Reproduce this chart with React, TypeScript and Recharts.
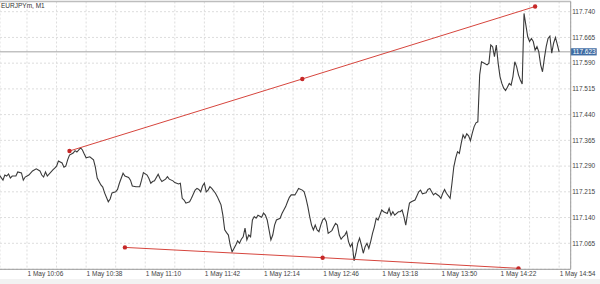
import React from "react";
import {
  ComposedChart,
  Line,
  XAxis,
  YAxis,
  CartesianGrid,
  ReferenceLine,
} from "recharts";

// EURJPYm M1 closes (1 May)
const barTimes = [
  "09:51", "09:53", "09:54", "09:55", "09:56", "09:57", "09:58", "10:00", "10:01", "10:03",
  "10:04", "10:05", "10:07", "10:09", "10:11", "10:13", "10:14", "10:15", "10:16", "10:17",
  "10:20", "10:21", "10:22", "10:23", "10:25", "10:26", "10:27", "10:28", "10:29", "10:31",
  "10:32", "10:33", "10:35", "10:36", "10:37", "10:38", "10:40", "10:42", "10:43", "10:44",
  "10:46", "10:47", "10:48", "10:50", "10:51", "10:52", "10:54", "10:55", "10:56", "10:58",
  "10:59", "11:01", "11:02", "11:03", "11:05", "11:07", "11:08", "11:09", "11:11", "11:12",
  "11:13", "11:14", "11:15", "11:17", "11:18", "11:19", "11:21", "11:22", "11:23", "11:25",
  "11:26", "11:28", "11:29", "11:30", "11:31", "11:32", "11:34", "11:35", "11:37", "11:38",
  "11:39", "11:40", "11:41", "11:42", "11:43", "11:44", "11:45", "11:46", "11:48", "11:49",
  "11:50", "11:51", "11:52", "11:53", "11:54", "11:55", "11:56", "11:57", "11:58", "11:59",
  "12:00", "12:01", "12:02", "12:03", "12:04", "12:05", "12:06", "12:07", "12:08", "12:09",
  "12:10", "12:11", "12:13", "12:14", "12:15", "12:16", "12:17", "12:18", "12:19", "12:20",
  "12:21", "12:23", "12:24", "12:26", "12:27", "12:28", "12:29", "12:31", "12:32", "12:33",
  "12:35", "12:36", "12:37", "12:38", "12:39", "12:40", "12:41", "12:42", "12:43", "12:44",
  "12:45", "12:46", "12:47", "12:48", "12:49", "12:51", "12:52", "12:53", "12:54", "12:55",
  "12:56", "12:57", "12:58", "12:59", "13:00", "13:01", "13:02", "13:03", "13:04", "13:05",
  "13:06", "13:07", "13:08", "13:09", "13:10", "13:11", "13:12", "13:13", "13:14", "13:15",
  "13:16", "13:17", "13:18", "13:19", "13:21", "13:22", "13:23", "13:24", "13:25", "13:27",
  "13:28", "13:29", "13:30", "13:31", "13:32", "13:33", "13:34", "13:36", "13:37", "13:38",
  "13:39", "13:40", "13:41", "13:42", "13:43", "13:44", "13:45", "13:46", "13:47", "13:49",
  "13:50", "13:51", "13:52", "13:53", "13:55", "13:56", "13:57", "13:58", "13:59", "14:00",
  "14:01", "14:02", "14:03", "14:04", "14:05", "14:06", "14:07", "14:08", "14:09", "14:10",
  "14:11", "14:12", "14:13", "14:15", "14:16", "14:17", "14:18", "14:19", "14:20", "14:21",
  "14:22", "14:23", "14:24", "14:25", "14:26", "14:27", "14:28", "14:29", "14:30", "14:31",
  "14:32", "14:33", "14:34", "14:35", "14:36", "14:37", "14:38", "14:39", "14:40", "14:41",
  "14:42", "14:43", "14:44", "14:45", "14:46", "14:47", "14:48", "14:49", "14:50", "14:51",
  "14:52", "14:53", "14:54",
];

const barCloses = [
  117.264, 117.249, 117.264, 117.261, 117.267, 117.255, 117.261, 117.261, 117.273, 117.27,
  117.249, 117.258, 117.264, 117.276, 117.282, 117.276, 117.264, 117.258, 117.273, 117.261,
  117.279, 117.284, 117.29, 117.305, 117.299, 117.287, 117.29, 117.308, 117.322, 117.328,
  117.335, 117.331, 117.343, 117.337, 117.325, 117.314, 117.317, 117.308, 117.287, 117.255,
  117.235, 117.229, 117.212, 117.186, 117.194, 117.212, 117.215, 117.222, 117.24, 117.269,
  117.261, 117.257, 117.249, 117.232, 117.23, 117.23, 117.249, 117.271, 117.264, 117.254,
  117.24, 117.245, 117.247, 117.266, 117.254, 117.245, 117.252, 117.259, 117.252, 117.247,
  117.242, 117.238, 117.24, 117.196, 117.191, 117.182, 117.186, 117.196, 117.22, 117.225,
  117.222, 117.215, 117.232, 117.24, 117.215, 117.22, 117.23, 117.225, 117.211, 117.201,
  117.189, 117.177, 117.147, 117.104, 117.096, 117.089, 117.06, 117.04, 117.05, 117.06,
  117.072, 117.065, 117.077, 117.084, 117.109, 117.075, 117.089, 117.084, 117.133, 117.143,
  117.138, 117.147, 117.141, 117.153, 117.147, 117.133, 117.104, 117.075, 117.089, 117.118,
  117.133, 117.138, 117.152, 117.172, 117.186, 117.199, 117.206, 117.206, 117.215, 117.225,
  117.22, 117.215, 117.196, 117.172, 117.143, 117.118, 117.104, 117.118, 117.104, 117.099,
  117.118, 117.133, 117.138, 117.128, 117.094, 117.102, 117.113, 117.123, 117.118, 117.089,
  117.077, 117.084, 117.089, 117.099, 117.07, 117.055, 117.065, 117.014, 117.036, 117.065,
  117.08, 117.06, 117.036, 117.055, 117.065, 117.05, 117.07, 117.094, 117.113, 117.138,
  117.133, 117.147, 117.162, 117.157, 117.152, 117.167, 117.147, 117.157, 117.147, 117.157,
  117.157, 117.162, 117.143, 117.118, 117.152, 117.182, 117.186, 117.191, 117.203, 117.215,
  117.22, 117.209, 117.211, 117.212, 117.222, 117.225, 117.215, 117.206, 117.211, 117.203,
  117.196, 117.211, 117.222, 117.211, 117.196, 117.24, 117.288, 117.313, 117.332, 117.327,
  117.356, 117.381, 117.371, 117.384, 117.378, 117.364, 117.386, 117.405, 117.416, 117.419,
  117.556, 117.594, 117.591, 117.585, 117.59, 117.643, 117.638, 117.609, 117.643, 117.59,
  117.551, 117.531, 117.517, 117.51, 117.52, 117.531, 117.526, 117.551, 117.594, 117.58,
  117.556, 117.541, 117.529, 117.735, 117.701, 117.667, 117.653, 117.662, 117.653, 117.628,
  117.638, 117.623, 117.585, 117.565, 117.604, 117.638, 117.662, 117.669, 117.619, 117.648,
  117.665, 117.645, 117.623,
];

// trend lines drawn on the chart (anchor, middle handle, anchor)
const upperTrendTimes = ["10:29", "12:35", "14:41"];
const upperTrendPrices = [117.334, 117.544, 117.755];
const lowerTrendTimes = ["10:59", "12:46", "14:32"];
const lowerTrendPrices = [117.053, 117.023, 116.992];

const priceTicks = [
  117.065, 117.14, 117.215, 117.29, 117.365, 117.44, 117.515, 117.59, 117.665, 117.74,
];
// grid every 16 min, labels on every other one
const gridTimes = [
  "10:06", "10:22", "10:38", "10:54", "11:10", "11:26", "11:42", "11:58", "12:14", "12:30",
  "12:46", "13:02", "13:18", "13:34", "13:50", "14:06", "14:22", "14:38", "14:54",
];
const labelTimes = [
  "10:06", "10:38", "11:10", "11:42", "12:14", "12:46", "13:18", "13:50", "14:22", "14:54",
];

const symbolTitle = "EURJPYm, M1";
const dayLabel = "1 May";
const currentPrice = 117.623;

const FONT = "'Liberation Sans', Arial, Helvetica, sans-serif";
const TREND = "#d6453d";

const toMin = (s: string) => {
  const [h, m] = s.split(":").map(Number);
  return h * 60 + m;
};
const fmtMin = (t: number) => {
  const h = Math.floor(t / 60);
  const m = Math.round(t - h * 60);
  return `${String(h).padStart(2, "0")}:${String(m).padStart(2, "0")}`;
};

const n = Math.min(barTimes.length, barCloses.length);
const bars = barTimes.slice(0, n).map((s, i) => ({ t: toMin(s), price: barCloses[i] }));
const upperTrend = upperTrendTimes.map((s, i) => ({ t: toMin(s), price: upperTrendPrices[i] }));
const lowerTrend = lowerTrendTimes.map((s, i) => ({ t: toMin(s), price: lowerTrendPrices[i] }));
const gridTicks = gridTimes.map(toMin);
const labelSet = new Set(labelTimes.map(toMin));

const X_DOMAIN = [591.39, 900.26];
const Y_DOMAIN = [116.9892, 117.7697];

function TimeTick(props: any) {
  const { x, y, payload } = props;
  if (!labelSet.has(payload.value)) return <g />;
  return (
    <text x={x + 0.5} y={y + 6.6} fontSize={6.5} fill="#444" fontFamily={FONT} textAnchor="start">
      {`${dayLabel} ${fmtMin(payload.value)}`}
    </text>
  );
}

function PriceTag(props: any) {
  const vb = props.viewBox || {};
  const left = vb.x + vb.width;
  return (
    <g>
      <rect x={left} y={vb.y - 3.6} width={26} height={7.2} fill="#3f6da4" />
      <text x={left + 2} y={vb.y + 2.3} fontSize={6.5} fill="#fff" fontFamily={FONT}>
        {currentPrice.toFixed(3)}
      </text>
    </g>
  );
}

export default function App() {
  return (
    <div style={{ position: "absolute", left: 0, top: 0, width: 600, height: 284, background: "#fff" }}>
      <ComposedChart
        width={600}
        height={284}
        data={bars}
        margin={{ top: 1.5, right: 0, bottom: 0, left: 0 }}
      >
        <CartesianGrid stroke="#dddddd" strokeDasharray="2 2" />
        <XAxis
          dataKey="t"
          type="number"
          domain={X_DOMAIN}
          allowDataOverflow
          ticks={gridTicks}
          interval={0}
          height={14.7}
          tickSize={0}
          tickMargin={0}
          tickLine={false}
          axisLine={{ stroke: "#9a9a9a" }}
          tick={(p: any) => <TimeTick {...p} />}
        />
        <YAxis
          orientation="right"
          type="number"
          domain={Y_DOMAIN}
          allowDataOverflow
          ticks={priceTicks}
          interval={0}
          width={29.3}
          tickSize={0}
          tickMargin={1.5}
          tickLine={false}
          axisLine={{ stroke: "#9a9a9a" }}
          tick={{ fontSize: 6.5, fill: "#444", fontFamily: FONT }}
          tickFormatter={(v: number) => v.toFixed(3)}
        />
        <ReferenceLine y={Y_DOMAIN[1]} stroke="#bdbdbd" strokeWidth={1.5} />
        <ReferenceLine
          y={currentPrice}
          stroke="#a3a3a3"
          strokeWidth={1}
          label={(p: any) => <PriceTag {...p} />}
        />
        <Line
          type="linear"
          dataKey="price"
          stroke="#3a3a3a"
          strokeWidth={1.1}
          dot={false}
          isAnimationActive={false}
        />
        <Line
          data={upperTrend}
          type="linear"
          dataKey="price"
          stroke={TREND}
          strokeWidth={1}
          dot={{ r: 2.2, fill: "#c62828", stroke: "none" }}
          isAnimationActive={false}
        />
        <Line
          data={lowerTrend}
          type="linear"
          dataKey="price"
          stroke={TREND}
          strokeWidth={1}
          dot={{ r: 2.2, fill: "#c62828", stroke: "none" }}
          isAnimationActive={false}
        />
      </ComposedChart>
      <div
        style={{
          position: "absolute",
          left: 1,
          top: 2.4,
          fontFamily: FONT,
          fontSize: 6.5,
          lineHeight: "7px",
          color: "#333",
          whiteSpace: "nowrap",
        }}
      >
        {symbolTitle}
      </div>
      <div style={{ position: "absolute", left: 0, top: 279, width: 600, height: 5, background: "#f2f2f2" }} />
    </div>
  );
}
